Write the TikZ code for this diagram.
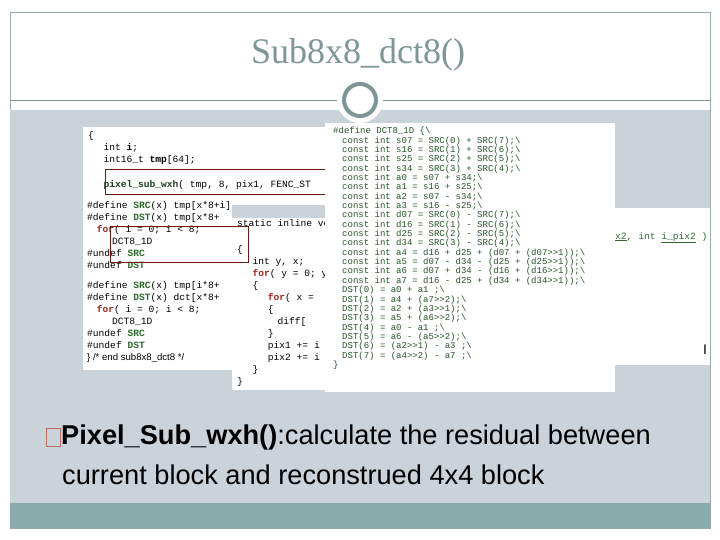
\documentclass[tikz,border=0pt]{standalone}
\usepackage{fontspec}
\setmainfont{Liberation Sans}
\newfontfamily\titlefont{Liberation Serif}
\setmonofont{Liberation Mono}
\definecolor{slideband}{HTML}{C9D3D9}
\definecolor{slidefoot}{HTML}{8AABAB}
\definecolor{slidegray}{HTML}{7F9696}
\definecolor{kwred}{HTML}{A0281E}
\definecolor{macgreen}{HTML}{2E6B2E}
\definecolor{bulletred}{HTML}{C07060}
\tikzset{
  shot/.style={fill=white, draw=none},
  code/.style={anchor=north west, align=left, inner sep=0pt,
    font=\ttfamily\fontsize{9.6}{12}\selectfont},
  smallcode/.style={anchor=north west, align=left, inner sep=0pt,
    font=\ttfamily\fontsize{9}{9.35}\selectfont, text=macgreen!80!black},
}
\newcommand{\kw}[1]{\textcolor{kwred}{\textbf{#1}}}
\newcommand{\mc}[1]{\textcolor{macgreen}{\textbf{#1}}}
\begin{document}
\begin{tikzpicture}[x=1pt,y=-1pt]
  \useasboundingbox (0,0) rectangle (720,540);
  \fill[white] (0,0) rectangle (720,540);
  % slide frame and title
  \draw[slidegray!80, line width=0.8pt] (10,12) -- (710,12) -- (710,528) -- (10,528) -- cycle;
  \node[text=slidegray, font=\titlefont\fontsize{36}{40}\selectfont] (title) at (358,55) {Sub8x8\_dct8()};
  \fill[slideband] (10,110) rectangle (710,503);
  \fill[slidefoot] (10,503) rectangle (710,528);
  \draw[slidegray, line width=0.8pt] (10,100) -- (710,100);
  \fill[white] (360,100) circle (23);
  \draw[slidegray, line width=4pt] (360,100) circle (16);

  % code screenshots
  \fill[shot] (83,127) rectangle (330,205);
  \fill[shot] (83,205) rectangle (232,370);
  \node[code] (first) at (88,131) {%
\{\\
\quad\ int \textbf{i};\\
\quad\ int16\_t \textbf{tmp}[64];\\[13pt]
\quad\ \textcolor{macgreen!60!black}{\textbf{pixel\_sub\_wxh}}( tmp, 8, pix1, FENC\_ST};
  \draw[kwred!70!black, line width=0.9pt] (105,169) rectangle (330,194);
  \node[code] (rows) at (87,201) {%
\#define \mc{SRC}(x) tmp[x*8+i]\\
\#define \mc{DST}(x) tmp[x*8+\\
\quad \kw{for}( i = 0; i < 8;\\
\quad\quad\ DCT8\_1D\\
\#undef \mc{SRC}\\
\#undef \mc{DST}\\[8pt]
\#define \mc{SRC}(x) tmp[i*8+\\
\#define \mc{DST}(x) dct[x*8+\\
\quad \kw{for}( i = 0; i < 8;\\
\quad\quad\ DCT8\_1D\\
\#undef \mc{SRC}\\
\#undef \mc{DST}\\
\textrm{\} /* end sub8x8\_dct8 */}};

  \fill[shot] (232,218) rectangle (420,390);
  \node[code] (wxh) at (237,219) {%
static inline voi\\[14pt]
\{\\
\quad\ int y, x;\\
\quad\ \kw{for}( y = 0; y\\
\quad\ \{\\
\quad\quad\ \ \kw{for}( x =\\
\quad\quad\ \ \{\\
\quad\quad\quad\ \ diff[\\
\quad\quad\ \ \}\\
\quad\quad\ \ pix1 += i\\
\quad\quad\ \ pix2 += i\\
\quad\ \}\\
\}};
  \draw[kwred!70!black, line width=0.9pt] (110,226) rectangle (248,262);

  \fill[shot] (615,208) rectangle (710,365);
  \node[code, text=macgreen] (args) at (615,232) {\underline{x2}, int \underline{i\_pix2} )};
  \node[font=\fontsize{14}{14}\selectfont] (cursor) at (705,350) {I};

  \fill[shot] (325,123) rectangle (615,392);
  \node[smallcode] (dct) at (333,127) {%
\#define DCT8\_1D \{\textbackslash\\
\quad const int s07 = SRC(0) + SRC(7);\textbackslash\\
\quad const int s16 = SRC(1) + SRC(6);\textbackslash\\
\quad const int s25 = SRC(2) + SRC(5);\textbackslash\\
\quad const int s34 = SRC(3) + SRC(4);\textbackslash\\
\quad const int a0 = s07 + s34;\textbackslash\\
\quad const int a1 = s16 + s25;\textbackslash\\
\quad const int a2 = s07 - s34;\textbackslash\\
\quad const int a3 = s16 - s25;\textbackslash\\
\quad const int d07 = SRC(0) - SRC(7);\textbackslash\\
\quad const int d16 = SRC(1) - SRC(6);\textbackslash\\
\quad const int d25 = SRC(2) - SRC(5);\textbackslash\\
\quad const int d34 = SRC(3) - SRC(4);\textbackslash\\
\quad const int a4 = d16 + d25 + (d07 + (d07>>1));\textbackslash\\
\quad const int a5 = d07 - d34 - (d25 + (d25>>1));\textbackslash\\
\quad const int a6 = d07 + d34 - (d16 + (d16>>1));\textbackslash\\
\quad const int a7 = d16 - d25 + (d34 + (d34>>1));\textbackslash\\
\quad DST(0) = a0 + a1 ;\textbackslash\\
\quad DST(1) = a4 + (a7>>2);\textbackslash\\
\quad DST(2) = a2 + (a3>>1);\textbackslash\\
\quad DST(3) = a5 + (a6>>2);\textbackslash\\
\quad DST(4) = a0 - a1 ;\textbackslash\\
\quad DST(5) = a6 - (a5>>2);\textbackslash\\
\quad DST(6) = (a2>>1) - a3 ;\textbackslash\\
\quad DST(7) = (a4>>2) - a7 ;\textbackslash\\
\}};

  % bullet text
  \draw[bulletred, line width=1pt] (46,428) rectangle (60,446);
  \node[anchor=west, inner sep=0pt, font=\fontsize{27.2}{30}\selectfont] (bullet) at (61,437)
    {\textbf{Pixel\_Sub\_wxh()}:calculate the residual between};
  \node[anchor=west, inner sep=0pt, font=\fontsize{27.2}{30}\selectfont] (second) at (62,475)
    {current block and reconstrued 4x4 block};
\end{tikzpicture}
\end{document}
